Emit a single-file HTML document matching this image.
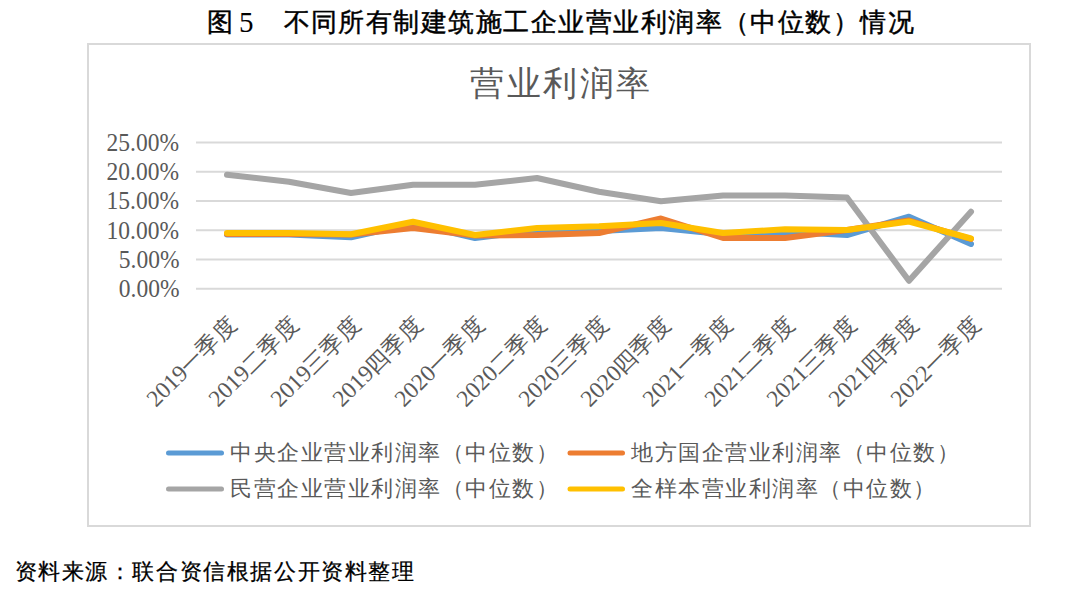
<!DOCTYPE html>
<html><head><meta charset="utf-8">
<style>
html,body{margin:0;padding:0;background:#fff;}
body{width:1080px;height:591px;position:relative;overflow:hidden;font-family:"Liberation Serif",serif;}
.t{position:absolute;white-space:nowrap;line-height:1;}
.tt{top:8.5px;font-family:"Liberation Sans",sans-serif;font-weight:normal;-webkit-text-stroke:0.45px #000;font-size:26px;letter-spacing:1.47px;color:#000;}
.tt5{top:7.5px;font-family:"Liberation Serif",serif;font-size:29px;color:#000;}
#box{position:absolute;left:87px;top:43px;width:940px;height:480px;border:2px solid #d9d9d9;}
#ctitle{left:470px;top:67px;font-size:34px;letter-spacing:2.6px;color:#595959;}
.yl{position:absolute;right:900.5px;font-size:25px;color:#595959;line-height:1;transform:scaleX(0.94);transform-origin:100% 50%;}
.lg{position:absolute;font-size:22px;letter-spacing:1.5px;color:#595959;line-height:1;white-space:nowrap;}
#src{left:14.5px;top:562px;font-size:21.5px;letter-spacing:1.6px;font-weight:normal;-webkit-text-stroke:0.25px #000;color:#000;}
svg text{font-family:"Liberation Serif",serif;font-size:22.5px;fill:#595959;}
.dg{font-size:23.5px;}
</style></head><body>
<div class="t tt" style="left:207px">图</div><div class="t tt5" style="left:239px">5</div><div class="t tt" id="title2" style="left:283.5px">不同所有制建筑施工企业营业利润率（中位数）情况</div>
<div id="box"></div>
<div class="t" id="ctitle">营业利润率</div>
<svg width="1080" height="591" style="position:absolute;left:0;top:0">
<g stroke="#d9d9d9" stroke-width="2">
<line x1="196" y1="142.5" x2="1002" y2="142.5"/>
<line x1="196" y1="171.8" x2="1002" y2="171.8"/>
<line x1="196" y1="201" x2="1002" y2="201"/>
<line x1="196" y1="230.3" x2="1002" y2="230.3"/>
<line x1="196" y1="259.5" x2="1002" y2="259.5"/>
<line x1="196" y1="288.8" x2="1002" y2="288.8"/>
</g>
<polyline fill="none" stroke="#5B9BD5" stroke-width="6" stroke-linejoin="round" stroke-linecap="round" points="227,234.5 289,234.5 351,237.25 413,223.5 475,238 537,230.5 599,231 661,228 723,234.25 785,231.75 847,235 909,216.75 971,244"/>
<polyline fill="none" stroke="#ED7D31" stroke-width="6" stroke-linejoin="round" stroke-linecap="round" points="227,234 289,234 351,234.5 413,228 475,235.5 537,235 599,233 661,218.5 723,238 785,238 847,230 909,220.5 971,239"/>
<polyline fill="none" stroke="#A5A5A5" stroke-width="6" stroke-linejoin="round" stroke-linecap="round" points="227,174.75 289,181.75 351,193 413,184.75 475,184.75 537,178 599,191.75 661,201.25 723,195.5 785,195.5 847,197.5 909,280.75 971,211.75"/>
<polyline fill="none" stroke="#FFC000" stroke-width="6" stroke-linejoin="round" stroke-linecap="round" points="227,233 289,233 351,234.25 413,221.75 475,235 537,228 599,226.25 661,223 723,233 785,229.25 847,230 909,221.5 971,238.5"/>
<text x="0" y="0" transform="translate(238,326) rotate(-45)" text-anchor="end"><tspan class="dg">2019</tspan>一季度</text>
<text x="0" y="0" transform="translate(300,326) rotate(-45)" text-anchor="end"><tspan class="dg">2019</tspan>二季度</text>
<text x="0" y="0" transform="translate(362,326) rotate(-45)" text-anchor="end"><tspan class="dg">2019</tspan>三季度</text>
<text x="0" y="0" transform="translate(424,326) rotate(-45)" text-anchor="end"><tspan class="dg">2019</tspan>四季度</text>
<text x="0" y="0" transform="translate(486,326) rotate(-45)" text-anchor="end"><tspan class="dg">2020</tspan>一季度</text>
<text x="0" y="0" transform="translate(548,326) rotate(-45)" text-anchor="end"><tspan class="dg">2020</tspan>二季度</text>
<text x="0" y="0" transform="translate(610,326) rotate(-45)" text-anchor="end"><tspan class="dg">2020</tspan>三季度</text>
<text x="0" y="0" transform="translate(672,326) rotate(-45)" text-anchor="end"><tspan class="dg">2020</tspan>四季度</text>
<text x="0" y="0" transform="translate(734,326) rotate(-45)" text-anchor="end"><tspan class="dg">2021</tspan>一季度</text>
<text x="0" y="0" transform="translate(796,326) rotate(-45)" text-anchor="end"><tspan class="dg">2021</tspan>二季度</text>
<text x="0" y="0" transform="translate(858,326) rotate(-45)" text-anchor="end"><tspan class="dg">2021</tspan>三季度</text>
<text x="0" y="0" transform="translate(920,326) rotate(-45)" text-anchor="end"><tspan class="dg">2021</tspan>四季度</text>
<text x="0" y="0" transform="translate(982,326) rotate(-45)" text-anchor="end"><tspan class="dg">2022</tspan>一季度</text>
<g stroke-width="5" stroke-linecap="round">
<line x1="168.5" y1="453" x2="221.5" y2="453" stroke="#5B9BD5"/>
<line x1="570" y1="453" x2="622.5" y2="453" stroke="#ED7D31"/>
<line x1="168.5" y1="489" x2="221.5" y2="489" stroke="#A5A5A5"/>
<line x1="570" y1="489" x2="622.5" y2="489" stroke="#FFC000"/>
</g>
</svg>
<div class="yl" style="top:130px">25.00%</div>
<div class="yl" style="top:159px">20.00%</div>
<div class="yl" style="top:188px">15.00%</div>
<div class="yl" style="top:218px">10.00%</div>
<div class="yl" style="top:247px">5.00%</div>
<div class="yl" style="top:276px">0.00%</div>
<div class="lg" style="left:230px;top:442px">中央企业营业利润率（中位数）</div>
<div class="lg" style="left:631px;top:442px">地方国企营业利润率（中位数）</div>
<div class="lg" style="left:230px;top:478px">民营企业营业利润率（中位数）</div>
<div class="lg" style="left:631px;top:478px">全样本营业利润率（中位数）</div>
<div class="t" id="src">资料来源：联合资信根据公开资料整理</div>
</body></html>
